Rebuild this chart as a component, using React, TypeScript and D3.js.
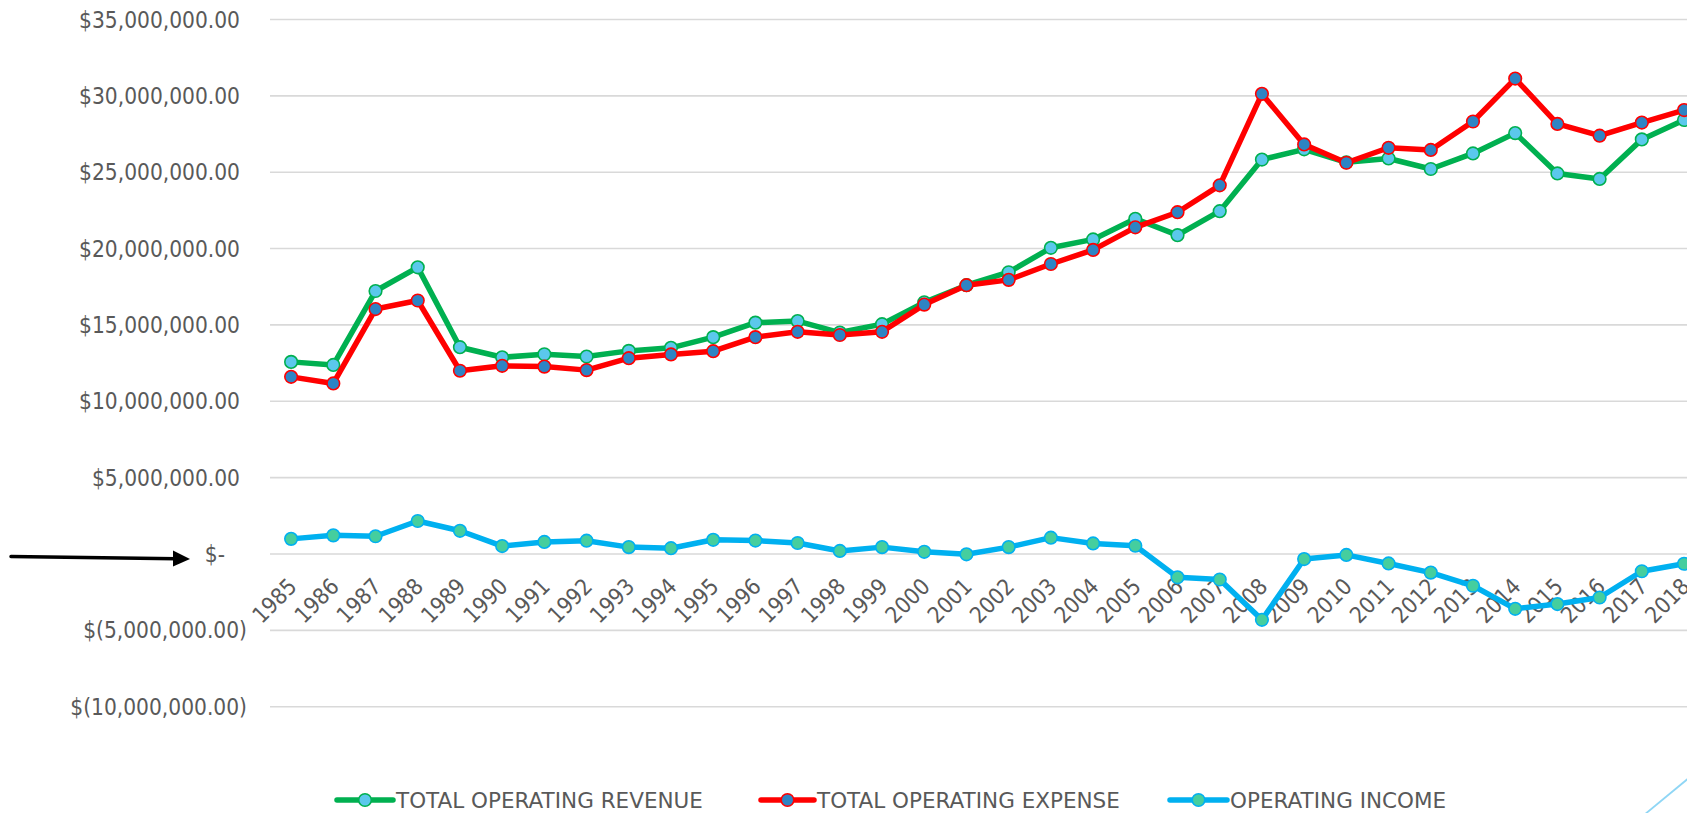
import * as d3 from 'd3';

const years = [
  '1985', '1986', '1987', '1988', '1989', '1990', '1991', '1992', '1993', '1994',
  '1995', '1996', '1997', '1998', '1999', '2000', '2001', '2002', '2003', '2004',
  '2005', '2006', '2007', '2008', '2009', '2010', '2011', '2012', '2013', '2014',
  '2015', '2016', '2017', '2018',
];

// values in millions of dollars
const revenue = [
  12.58, 12.38, 17.22, 18.77, 13.54, 12.88, 13.08, 12.93, 13.3, 13.5,
  14.2, 15.15, 15.25, 14.5, 15.05, 16.48, 17.6, 18.45, 20.05, 20.6,
  21.95, 20.88, 22.45, 25.83, 26.5, 25.65, 25.9, 25.21, 26.23, 27.56,
  24.92, 24.56, 27.15, 28.42,
];
const expense = [
  11.6, 11.17, 16.04, 16.6, 12.0, 12.32, 12.27, 12.04, 12.82, 13.07,
  13.28, 14.2, 14.55, 14.34, 14.55, 16.33, 17.6, 17.95, 18.99, 19.91,
  21.39, 22.38, 24.14, 30.13, 26.82, 25.62, 26.6, 26.46, 28.32, 31.13,
  28.16, 27.39, 28.25, 29.07,
];
const income = [
  0.99, 1.22, 1.16, 2.16, 1.52, 0.52, 0.79, 0.87, 0.45, 0.38,
  0.93, 0.88, 0.72, 0.2, 0.45, 0.14, -0.02, 0.45, 1.07, 0.69,
  0.54, -1.53, -1.67, -4.31, -0.33, -0.06, -0.62, -1.22, -2.08, -3.59,
  -3.28, -2.85, -1.13, -0.64,
];

const yTicks = [-10, -5, 0, 5, 10, 15, 20, 25, 30, 35];

const series = [
  { name: 'TOTAL OPERATING REVENUE', values: revenue, line: '#00B050', fill: '#5BC8EC' },
  { name: 'TOTAL OPERATING EXPENSE', values: expense, line: '#FF0000', fill: '#2E84C4' },
  { name: 'OPERATING INCOME', values: income, line: '#00B0F0', fill: '#45CE9E' },
];

const W = 1687;
const H = 813;
const FONT = '"DejaVu Sans Condensed", "DejaVu Sans", sans-serif';
const TXT = '#595959';

const fmtNum = d3.format(',.2f');
function fmtTick(v: number) {
  if (v === 0) return '$-';
  const s = fmtNum(Math.abs(v) * 1e6);
  return v < 0 ? `$(${s})` : `$${s}`;
}

export default function App() {
  const x = d3.scaleBand<string>()
    .domain(years)
    .range([270, 270 + years.length * 42.21]);
  const y = d3.scaleLinear().domain([-10, 35]).range([706.7, 19.5]);
  const cx = (i: number) => (x(years[i]) as number) + x.bandwidth() / 2;

  const line = d3.line<number>()
    .x((_, i) => cx(i))
    .y(d => y(d));

  const legendItems = [
    { x0: 337, x1: 393, tx: 396 },
    { x0: 761, x1: 814, tx: 817 },
    { x0: 1170, x1: 1227, tx: 1230 },
  ];

  return (
    <svg
      width={W}
      height={H}
      style={{ position: 'absolute', left: 0, top: 0, display: 'block', background: '#fff' }}
      fontFamily={FONT}
    >
      {/* grid + y labels */}
      {yTicks.map(t => (
        <g key={t}>
          <line x1={270} x2={W} y1={y(t)} y2={y(t)} stroke="#D9D9D9" strokeWidth={1.6} />
          <text
            x={t < 0 ? 247 : t === 0 ? 225 : 240}
            y={y(t)}
            dy="0.36em"
            textAnchor="end"
            fontSize={22.5}
            fill={TXT}
          >
            {fmtTick(t)}
          </text>
        </g>
      ))}

      {/* x labels */}
      {years.map((yr, i) => (
        <text
          key={yr}
          transform={`translate(${cx(i) + 7},${y(0) + 34}) rotate(-45)`}
          textAnchor="end"
          fontSize={22.5}
          fill={TXT}
        >
          {yr}
        </text>
      ))}

      {/* series */}
      {series.map(s => (
        <g key={s.name}>
          <path
            d={line(s.values) ?? ''}
            fill="none"
            stroke={s.line}
            strokeWidth={5.5}
            strokeLinejoin="round"
            strokeLinecap="round"
          />
          {s.values.map((v, i) => (
            <circle key={i} cx={cx(i)} cy={y(v)} r={6.3} fill={s.fill} stroke={s.line} strokeWidth={1.6} />
          ))}
        </g>
      ))}

      {/* legend */}
      {series.map((s, k) => {
        const it = legendItems[k];
        return (
          <g key={s.name}>
            <line x1={it.x0} x2={it.x1} y1={800} y2={800} stroke={s.line} strokeWidth={5.5} strokeLinecap="round" />
            <circle cx={(it.x0 + it.x1) / 2} cy={800} r={6.3} fill={s.fill} stroke={s.line} strokeWidth={1.6} />
            <text x={it.tx} y={800} dy="0.36em" fontSize={21.5} fontFamily='"DejaVu Sans", sans-serif' fill={TXT}>
              {s.name}
            </text>
          </g>
        );
      })}

      {/* arrow pointing at the zero line */}
      <line x1={11} y1={556.5} x2={176} y2={558.8} stroke="#000" strokeWidth={3.5} strokeLinecap="round" />
      <path d="M173,550.5 L190,559 L173,566.5 Z" fill="#000" />

      {/* faint slide decoration in the corner */}
      <line x1={1644} y1={815} x2={1690} y2={777} stroke="#8FD6F5" strokeWidth={1.8} />
    </svg>
  );
}
